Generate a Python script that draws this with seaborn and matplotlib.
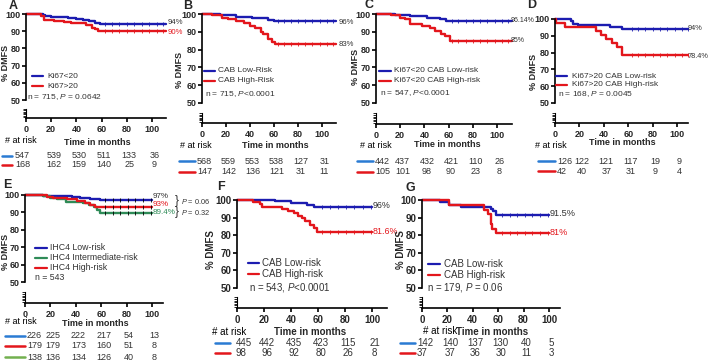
import numpy as np
import pandas as pd
import seaborn as sns
import matplotlib.pyplot as plt
from matplotlib.lines import Line2D
from matplotlib.transforms import blended_transform_factory

"""Config"""
sns.set_style('white')
plt.rcParams['font.family'] = ['Liberation Sans', 'DejaVu Sans']
plt.rcParams['mathtext.fontset'] = 'custom'
plt.rcParams['mathtext.it'] = 'Liberation Sans:italic'
plt.rcParams['mathtext.rm'] = 'Liberation Sans'
NARROW = ['Liberation Sans Narrow', 'Liberation Sans', 'DejaVu Sans']

W, H = 709, 364
BLUE = '#1c1cb0'
RED = '#e3161c'
GREEN = '#2e8b57'
DARK = '#333333'
RISK_BLUE = '#2a7bd3'
RISK_GREEN = '#72b04f'

month_ticks = [0, 20, 40, 60, 80, 100]
dmfs_ticks = [50, 60, 70, 80, 90, 100]

""" data (read off the figure) """
# A
a_lo_t = [0, 13.5, 15, 20, 27, 33, 40, 45, 50, 55, 59]
a_lo_s = [100, 99.4, 98.8, 98.5, 98.0, 97.5, 97.0, 96.5, 95.8, 95.0, 94.0]
a_hi_t = [0, 12, 14, 22, 30, 36, 42, 48, 52, 55, 57]
a_hi_s = [100, 98.8, 96.5, 96.0, 95.5, 95.0, 94.5, 93.5, 92.0, 91.0, 90.0]
a_risk_lo = [547, 539, 530, 511, 133, 36]
a_risk_hi = [168, 162, 159, 140, 25, 9]
# B
b_lo_t = [0, 15, 28, 42, 55, 60]
b_lo_s = [100, 99.2, 98.5, 97.5, 96.5, 96.0]
b_hi_t = [0, 8, 17, 22, 28, 35, 40, 44, 49, 51, 55, 58, 61]
b_hi_s = [100, 99.3, 98.0, 97.0, 96.0, 95.0, 93.5, 92.0, 90.0, 88.5, 86.0, 84.5, 83.0]
b_risk_lo = [568, 559, 553, 538, 127, 31]
b_risk_hi = [147, 142, 136, 121, 31, 11]
# C
c_lo_t = [0, 16, 28, 42, 53, 58]
c_lo_s = [100, 99.6, 99.0, 98.0, 97.0, 96.14]
c_hi_t = [0, 12, 20, 24, 28, 38, 45, 49, 54, 57, 61]
c_hi_s = [100, 99.3, 98.0, 97.0, 94.5, 93.0, 92.0, 90.5, 89.0, 87.5, 85.0]
c_risk_lo = [442, 437, 432, 421, 110, 26]
c_risk_hi = [105, 101, 98, 90, 23, 8]
# D
d_lo_t = [0, 13, 15, 19, 45, 51, 55]
d_lo_s = [100, 98.6, 97.2, 96.2, 95.5, 95.0, 94.0]
d_hi_t = [0, 1, 8, 34, 38, 42, 47, 51, 55]
d_hi_s = [100, 97.6, 95.2, 92.9, 90.5, 88.1, 85.7, 83.3, 78.4]
d_risk_lo = [126, 122, 121, 117, 19, 9]
d_risk_hi = [42, 40, 37, 31, 9, 4]
# E
e_lo_t = [0, 14, 28, 37, 43, 51, 59, 100]
e_lo_s = [100, 99.7, 99.3, 98.8, 98.2, 97.5, 97.0, 97.0]
e_mid_t = [0, 14, 20, 25, 32, 46, 50, 54, 57, 59, 100]
e_mid_s = [100, 99.5, 98.5, 97.5, 96.2, 95.5, 94.5, 93.0, 91.5, 89.4, 89.4]
e_hi_t = [0, 17, 22, 33, 41, 47, 51, 55, 100]
e_hi_s = [100, 99.0, 98.3, 97.5, 96.5, 95.5, 94.5, 93.0, 93.0]
e_risk_lo = [226, 225, 222, 217, 54, 13]
e_risk_hi = [179, 179, 173, 160, 51, 8]
e_risk_mid = [138, 136, 134, 126, 40, 8]
# F
f_lo_t = [0, 13, 28, 40, 52, 57, 100]
f_lo_s = [100, 99.8, 99.2, 98.4, 97.4, 96.0, 96.0]
f_hi_t = [0, 12, 17, 18.5, 33, 38, 42, 45, 48, 50, 54, 57, 59, 100]
f_hi_s = [100, 99.0, 97.9, 96.0, 95.0, 94.0, 92.5, 91.0, 89.5, 88.0, 86.0, 84.0, 81.6, 81.6]
f_risk_lo = [445, 442, 435, 423, 115, 21]
f_risk_hi = [98, 96, 92, 80, 26, 8]
# G
g_lo_t = [0, 14, 21, 31, 51, 54, 56, 58, 100]
g_lo_s = [100, 98.6, 97.2, 96.0, 95.8, 95.0, 93.5, 91.5, 91.5]
g_hi_t = [0, 21, 49, 52, 54, 55, 58.5, 100]
g_hi_s = [100, 97.3, 94.6, 91.9, 86.5, 83.8, 81.0, 81.0]
g_risk_lo = [142, 140, 137, 130, 40, 5]
g_risk_hi = [37, 37, 36, 30, 11, 3]

cens_long = [63, 68, 74, 80, 86, 92, 98, 104, 109]
cens_short = [63, 69, 75, 81, 87, 93, 99]

fig = plt.figure(figsize=(W / 100, H / 100), dpi=100)


def fx(px):
    return px / W


def fy(py):
    return 1 - py / H


def box(l, t, r, b):
    return [fx(l), fy(b), fx(r) - fx(l), (b - t) / H]


def step_val(t, s, x):
    i = np.searchsorted(t, x, side='right') - 1
    return np.asarray(s)[i]


def draw_panel(p):
    x0, ppm, xmax = p['x0'], p['ppm'], p['xmax']
    right = x0 + xmax * ppm
    fs = p.get('fs', 6.5)
    lfs = p.get('lfs', 6)

    # upper part 50-100
    ax = fig.add_axes(box(x0, p['y100'], right, p['y50']))
    ax.set_facecolor('none')
    for t, s, col, cens, ccol in p['curves']:
        t = list(t) + ([xmax] if t[-1] < 100 else [])
        s = list(s) + ([s[-1]] if len(s) < len(t) else [])
        df = pd.DataFrame({'months': t, 'dmfs': s})
        sns.lineplot(data=df, x='months', y='dmfs', drawstyle='steps-post',
                     color=col, lw=1.7, ax=ax, legend=False, clip_on=False)
        cx = [c for c in cens if c <= t[-1]]
        ax.plot(cx, step_val(t, s, cx), '|', color=ccol, ms=2.6, mew=0.6,
                clip_on=False, zorder=4)
    ax.set_xlim(0, xmax)
    ax.set_ylim(50, 100)
    ax.set_xlabel('')
    ax.set_ylabel('')
    for sp in ['top', 'right', 'bottom']:
        ax.spines[sp].set_visible(False)
    ax.spines['left'].set_linewidth(1.2)
    ax.spines['left'].set_color('black')
    ax.set_xticks([])
    ax.set_yticks(dmfs_ticks)
    ax.tick_params(axis='y', left=True, length=3, width=1.2, pad=1,
                   labelsize=fs, color='black')
    for lbl in ax.get_yticklabels():
        lbl.set_fontweight('bold')
        lbl.set_family(NARROW)

    # lower part with broken axis + x axis
    ax2 = fig.add_axes(box(x0, p['seg_top'], right, p['xaxis']))
    ax2.set_facecolor('none')
    ax2.set_xlim(0, xmax)
    ax2.set_ylim(0, 1)
    for sp in ['top', 'right']:
        ax2.spines[sp].set_visible(False)
    ax2.spines['left'].set_linewidth(0.8)
    ax2.spines['bottom'].set_linewidth(1.2)
    ax2.spines['left'].set_color('black')
    ax2.spines['bottom'].set_color('black')
    ax2.set_yticks([0.12, 0.26, 0.4, 0.54, 0.68, 0.84, 1.0])
    ax2.set_yticklabels([])
    ax2.tick_params(axis='y', left=True, length=2.5, width=0.6, color='black')
    ax2.set_xticks(month_ticks)
    ax2.tick_params(axis='x', bottom=True, length=3, width=1.2, pad=2,
                    labelsize=fs, color='black')
    for lbl in ax2.get_xticklabels():
        lbl.set_fontweight('bold')
        lbl.set_family(NARROW)

    # panel letter and axis labels
    fig.text(fx(p['letter'][1][0]), fy(p['letter'][1][1]), p['letter'][0],
             fontsize=9, fontweight='bold', ha='center', va='center')
    fig.text(fx(p['ylab'][0]), fy(p['ylab'][1]), '% DMFS', rotation=90,
             fontsize=fs, fontweight='bold', ha='center', va='center')
    fig.text(fx(p['time'][0]), fy(p['time'][1]), 'Time in months',
             fontsize=fs, fontweight='bold', ha='center', va='center')

    # legend
    lx1, lx2, tx = p['leg_x']
    for col, lab, ly in p['legend']:
        fig.add_artist(Line2D([fx(lx1), fx(lx2)], [fy(ly), fy(ly)], color=col,
                              lw=1.6, transform=fig.transFigure))
        fig.text(fx(tx), fy(ly), lab, fontsize=lfs, color=DARK,
                 ha='left', va='center')
    fig.text(fx(p['note'][1][0]), fy(p['note'][1][1]), p['note'][0],
             fontsize=lfs, color=DARK, ha='left', va='center')

    # end values
    for txt, col, ex, ey in p['ends']:
        fig.text(fx(ex), fy(ey), txt, fontsize=p.get('efs', lfs), color=col,
                 ha='left', va='center')

    # risk table
    fig.text(fx(p['risk_head'][0]), fy(p['risk_head'][1]), '# at risk',
             fontsize=fs, color='black', ha='left', va='center')
    rx1, rx2, rnum = p['risk_x']
    trans = blended_transform_factory(ax2.transData, fig.transFigure)
    for (col, vals), ry in zip(p['risk'], p['risk_y']):
        fig.add_artist(Line2D([fx(rx1), fx(rx2)], [fy(ry), fy(ry)], color=col,
                              lw=1.8, transform=fig.transFigure))
        fig.text(fx(rnum), fy(ry), str(vals[0]), fontsize=fs, color=DARK,
                 ha='left', va='center')
        for m, v in zip(month_ticks[1:], vals[1:]):
            ax2.text(m + 2.0, fy(ry), str(v), transform=trans, fontsize=fs,
                     color=DARK, ha='center', va='center', clip_on=False)
    return ax, ax2


panels = [
    dict(x0=26, ppm=1.26, xmax=111, y100=14, y50=100, seg_top=109, xaxis=118,
         curves=[(a_lo_t, a_lo_s, BLUE, cens_long, BLUE),
                 (a_hi_t, a_hi_s, RED, cens_long, RED)],
         letter=('A', (13, 6)), ylab=(6, 63), time=(97, 143),
         leg_x=(32, 43, 47), efs=5.6,
         legend=[(BLUE, 'Ki67<20', 76), (RED, 'Ki67>20', 86)],
         note=('n = 715, $P$ = 0.0642', (27, 97)),
         ends=[('94%', DARK, 168, 22), ('90%', RED, 168, 32)],
         risk_head=(5, 141), risk_x=(2, 12, 15), risk_y=[156, 165],
         risk=[(RISK_BLUE, a_risk_lo), (RED, a_risk_hi)]),
    dict(x0=202, ppm=1.2, xmax=112, y100=14, y50=103, seg_top=113, xaxis=123,
         curves=[(b_lo_t, b_lo_s, BLUE, cens_long, BLUE),
                 (b_hi_t, b_hi_s, RED, cens_long, RED)],
         letter=('B', (188, 6)), ylab=(179, 70), time=(275, 146),
         leg_x=(204, 215, 218), efs=5.6,
         legend=[(BLUE, 'CAB Low-Risk', 71), (RED, 'CAB High-Risk', 81)],
         note=('n = 715, $P$<0.0001', (205, 94)),
         ends=[('96%', DARK, 339, 22), ('83%', DARK, 339, 44)],
         risk_head=(180, 146), risk_x=(179, 195, 197), risk_y=[161, 172],
         risk=[(RISK_BLUE, b_risk_lo), (RED, b_risk_hi)]),
    dict(x0=376, ppm=1.21, xmax=112, y100=14, y50=103, seg_top=113, xaxis=124,
         curves=[(c_lo_t, c_lo_s, BLUE, cens_long, BLUE),
                 (c_hi_t, c_hi_s, RED, cens_long, RED)],
         letter=('C', (369, 5)), ylab=(355, 67), time=(447, 145),
         leg_x=(379, 391, 394), efs=5.0,
         legend=[(BLUE, 'Ki67<20 CAB Low-risk', 71),
                 (RED, 'Ki67<20 CAB High-risk', 81)],
         note=('n = 547, $P$<0.0001', (380, 93)),
         ends=[('96.14%', DARK, 511, 21), ('85%', DARK, 511, 41)],
         risk_head=(360, 146), risk_x=(357, 373, 375), risk_y=[161, 172],
         risk=[(RISK_BLUE, c_risk_lo), (RED, c_risk_hi)]),
    dict(x0=555, ppm=1.22, xmax=109, y100=19, y50=103, seg_top=113, xaxis=123,
         curves=[(d_lo_t, d_lo_s, BLUE, cens_long, BLUE),
                 (d_hi_t, d_hi_s, RED, cens_long, RED)],
         letter=('D', (532, 5)), ylab=(534, 72), time=(622, 143),
         leg_x=(556, 567, 572), efs=5.3,
         legend=[(BLUE, 'Ki67>20 CAB Low-risk', 76),
                 (RED, 'Ki67>20 CAB High-risk', 85)],
         note=('n = 168, $P$ = 0.0045', (558, 94)),
         ends=[('94%', DARK, 688, 29), ('78.4%', DARK, 688, 56)],
         risk_head=(535, 146), risk_x=(538, 555, 557), risk_y=[161, 171],
         risk=[(RISK_BLUE, d_risk_lo), (RED, d_risk_hi)]),
    dict(x0=25, ppm=1.27, xmax=109, y100=195, y50=282, seg_top=292, xaxis=303,
         curves=[(e_lo_t, e_lo_s, BLUE, cens_short, 'black'),
                 (e_mid_t, e_mid_s, GREEN, cens_short, 'black'),
                 (e_hi_t, e_hi_s, RED, cens_short, 'black')],
         letter=('E', (7, 185)), ylab=(6, 252), time=(95, 324),
         leg_x=(35, 47, 50), lfs=6.3, efs=5.8,
         legend=[(BLUE, 'IHC4 Low-risk', 248),
                 (GREEN, 'IHC4 Intermediate-risk', 258),
                 (RED, 'IHC4 High-risk', 268)],
         note=('n = 543', (35, 278)),
         ends=[('97%', DARK, 153, 197), ('93%', RED, 153, 205),
               ('89.4%', GREEN, 153, 213)],
         risk_head=(5, 322), risk_x=(5, 25, 27), risk_y=[336, 346, 357],
         risk=[(RISK_BLUE, e_risk_lo), (RED, e_risk_hi),
               (RISK_GREEN, e_risk_mid)]),
    dict(x0=237, ppm=1.35, xmax=111, y100=200, y50=288, seg_top=297, xaxis=308,
         fs=7, lfs=7, efs=6.4,
         curves=[(f_lo_t, f_lo_s, BLUE, cens_short, BLUE),
                 (f_hi_t, f_hi_s, RED, cens_short, RED)],
         letter=('F', (221, 187)), ylab=(211, 250), time=(310, 332),
         leg_x=(248, 259, 262),
         legend=[(BLUE, 'CAB Low-risk', 263), (RED, 'CAB High-risk', 274)],
         note=('n = 543, $P$<0.0001', (249, 287)),
         ends=[('96%', DARK, 373, 206), ('81.6%', RED, 373, 232)],
         risk_head=(212, 332), risk_x=(215, 230, 236), risk_y=[343, 353],
         risk=[(RISK_BLUE, f_risk_lo), (RED, f_risk_hi)]),
    dict(x0=422, ppm=1.27, xmax=109, y100=200, y50=288, seg_top=297, xaxis=308,
         fs=7, lfs=7, efs=6.6,
         curves=[(g_lo_t, g_lo_s, BLUE, cens_short, BLUE),
                 (g_hi_t, g_hi_s, RED, cens_short, RED)],
         letter=('G', (410, 188)), ylab=(401, 250), time=(492, 332),
         leg_x=(428, 440, 444),
         legend=[(BLUE, 'CAB Low-risk', 264), (RED, 'CAB High-risk', 275)],
         note=('n = 179, $P$ = 0.06', (427, 287)),
         ends=[('91.5%', DARK, 550, 214), ('81%', RED, 550, 233)],
         risk_head=(423, 331), risk_x=(400, 415, 417), risk_y=[343, 353],
         risk=[(RISK_BLUE, g_risk_lo), (RED, g_risk_hi)]),
]

for p in panels:
    draw_panel(p)

# P-value brackets in panel E
for ty, txt in [(201, '$P$ = 0.06'), (212, '$P$ = 0.32')]:
    fig.text(fx(175), fy(ty), '}', fontsize=8.5, color=DARK, ha='left', va='center')
    fig.text(fx(181), fy(ty), txt, fontsize=5.3, color=DARK, ha='left', va='center')

fig.savefig('out.png', dpi=100)
